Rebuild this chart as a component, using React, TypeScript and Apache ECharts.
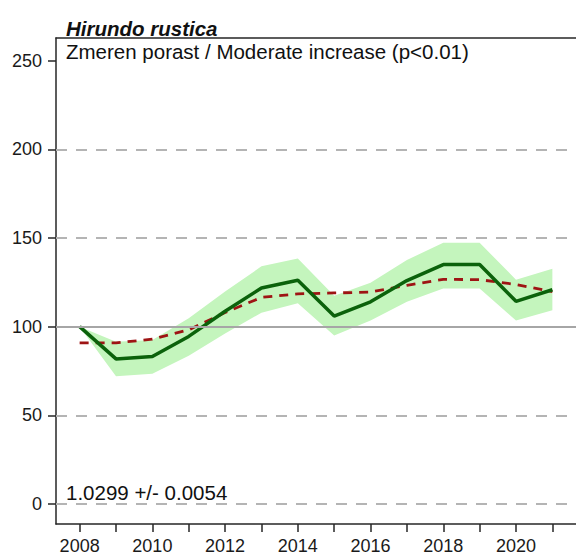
import React, { useEffect, useRef } from "react";
import * as echarts from "echarts";

const years = [2008, 2009, 2010, 2011, 2012, 2013, 2014, 2015, 2016, 2017, 2018, 2019, 2020, 2021];
const indexValues = [100, 81.8, 83.2, 94.5, 108.7, 121.8, 126.2, 106, 114, 126, 135, 135, 114.3, 120.8];
const trendValues = [90.8, 90.8, 93, 98.2, 108, 116.5, 118.5, 119, 119.5, 123.3, 126.7, 126.5, 123.8, 119.8];
const upperValues = [100, 91.5, 92.5, 104.7, 119.8, 134, 138.5, 117.5, 124.7, 137.6, 147.3, 147.3, 126.5, 132.6];
const lowerValues = [100, 72, 73.5, 83.6, 96.2, 107.9, 113.2, 95, 103.5, 114, 121.5, 121.5, 103.5, 109.2];
const xTickValues = years;
const xLabelValues = [2008, 2010, 2012, 2014, 2016, 2018, 2020];
const yTickValues = [0, 50, 100, 150, 200, 250];
const dashedGridValues = [0, 50, 150, 200];
const solidGridValues = [100];

const title = "Hirundo rustica";
const subtitle = "Zmeren porast / Moderate increase (p<0.01)";
const slopeText = "1.0299 +/- 0.0054";

export default function App() {
  const ref = useRef<HTMLDivElement>(null);
  useEffect(() => {
    if (!ref.current) return;
    const chart = echarts.init(ref.current, undefined, { renderer: "svg" });
    const font = "'Liberation Sans', Arial, sans-serif";
    const frame = "#262626";
    const option: any = {
      animation: false,
      backgroundColor: "#ffffff",
      grid: { left: 56, top: 38, width: 533, height: 486, containLabel: false },
      xAxis: [
        {
          type: "value",
          min: 2007.35,
          max: 2021.65,
          axisLine: { show: true, onZero: false, lineStyle: { color: frame, width: 1.5 } },
          axisTick: { show: true, customValues: xTickValues, length: 8, lineStyle: { color: frame, width: 1.5 } },
          axisLabel: {
            show: true,
            customValues: xLabelValues,
            color: "#1a1a1a",
            fontFamily: font,
            fontSize: 18,
            margin: 13,
            formatter: (v: number) => String(v),
          },
          splitLine: { show: false },
        },
        {
          type: "value",
          position: "top",
          min: 2007.35,
          max: 2021.65,
          axisLine: { show: true, onZero: false, lineStyle: { color: frame, width: 1.5 } },
          axisTick: { show: false },
          axisLabel: { show: false },
          splitLine: { show: false },
        },
      ],
      yAxis: {
        type: "value",
        min: -11.3,
        max: 262.8,
        axisLine: { show: true, onZero: false, lineStyle: { color: frame, width: 1.5 } },
        axisTick: { show: true, customValues: yTickValues, length: 8, lineStyle: { color: frame, width: 1.5 } },
        axisLabel: {
          show: true,
          customValues: yTickValues,
          color: "#1a1a1a",
          fontFamily: font,
          fontSize: 18,
          margin: 14,
          formatter: (v: number) => String(v),
        },
        splitLine: { show: false },
      },
      series: [
        {
          name: "band",
          type: "custom",
          data: [0],
          silent: true,
          z: 1,
          renderItem: (params: any, api: any) => {
            const top = years.map((y, i) => api.coord([y, upperValues[i]]));
            const bottom = years.map((y, i) => api.coord([y, lowerValues[i]])).reverse();
            return {
              type: "polygon",
              shape: { points: top.concat(bottom) },
              style: { fill: "#c4f5bd", stroke: "none" },
            };
          },
        },
        {
          name: "gridlines",
          type: "line",
          data: years.map((y, i) => [y, indexValues[i]]),
          showSymbol: false,
          lineStyle: { opacity: 0 },
          silent: true,
          z: 2,
          markLine: {
            silent: true,
            symbol: "none",
            label: { show: false },
            data: [
              ...dashedGridValues.map((v) => ({
                yAxis: v,
                lineStyle: { color: "#b4b4b4", width: 2, type: [11, 9] },
              })),
              ...solidGridValues.map((v) => ({
                yAxis: v,
                lineStyle: { color: "#a6a6a6", width: 2, type: "solid" },
              })),
            ],
          },
        },
        {
          name: "trend",
          type: "line",
          data: years.map((y, i) => [y, trendValues[i]]),
          showSymbol: false,
          lineStyle: { color: "#9e1414", width: 2.8, type: [9, 7] },
          z: 3,
        },
        {
          name: "index",
          type: "line",
          data: years.map((y, i) => [y, indexValues[i]]),
          showSymbol: false,
          lineStyle: { color: "#0b620b", width: 3.5 },
          z: 4,
        },
      ],
      graphic: [
        {
          type: "text",
          left: 66,
          top: 18,
          style: {
            text: title,
            font: `italic bold 20.5px ${font}`,
            fill: "#111",
          },
        },
        {
          type: "text",
          left: 66,
          top: 41,
          style: {
            text: subtitle,
            font: `20.5px ${font}`,
            fill: "#111",
          },
        },
        {
          type: "text",
          left: 66,
          top: 482,
          style: {
            text: slopeText,
            font: `20.5px ${font}`,
            fill: "#111",
          },
        },
      ],
    };
    chart.setOption(option);
    return () => chart.dispose();
  }, []);
  return (
    <div
      ref={ref}
      style={{ position: "absolute", left: 0, top: 0, width: 576, height: 557 }}
    />
  );
}
